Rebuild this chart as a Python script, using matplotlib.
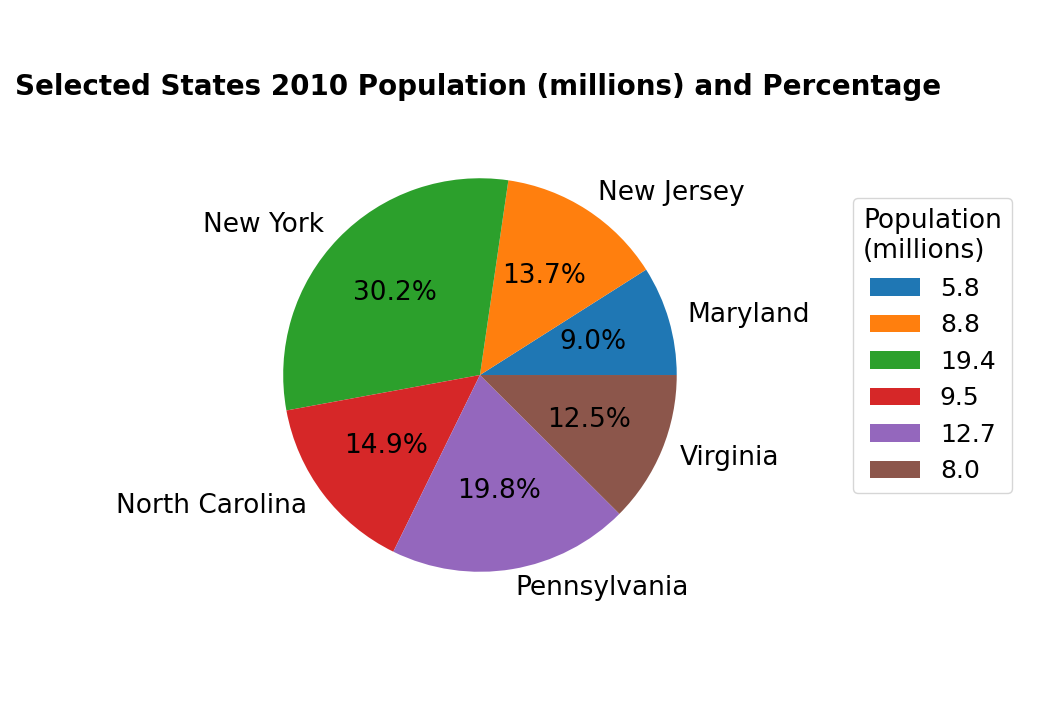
import matplotlib
matplotlib.use("Agg")
import matplotlib.pyplot as plt

# 2010 census population (millions)
states = ['Maryland', 'New Jersey', 'New York', 'North Carolina', 'Pennsylvania', 'Virginia']
population = [5.773552, 8.791894, 19.378102, 9.535483, 12.702379, 8.001024]
legend_labels = [f'{p:.1f}' for p in population]

fig = plt.figure(figsize=(10.4, 7.15), dpi=100)
ax = fig.add_axes([0.225, 0.1315, 0.473, 0.688])

wedges, texts, autotexts = ax.pie(population, labels=states, autopct='%1.1f%%',
                                  textprops={'fontsize': 19})

fig.text(0.46, 0.8785, 'Selected States 2010 Population (millions) and Percentage',
         ha='center', va='center', fontsize=20, fontweight='bold')

fig.legend(wedges, legend_labels, title='Population\n(millions)',
           loc='upper left', bbox_to_anchor=(0.8084, 0.7404),
           fontsize=18, title_fontsize=19)

fig.savefig('out.png', dpi=100)
